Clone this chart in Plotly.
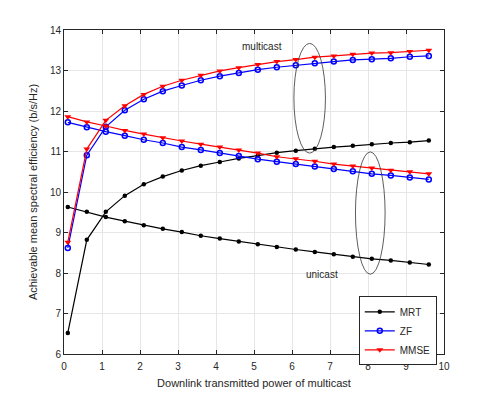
import plotly.graph_objects as go

# moc nadawania (oś x)
power = [0.1, 0.6, 1.1, 1.6, 2.1, 2.6, 3.1, 3.6, 4.1, 4.6,
         5.1, 5.6, 6.1, 6.6, 7.1, 7.6, 8.1, 8.6, 9.1, 9.6]

mrt_multicast = [6.52, 8.82, 9.51, 9.91, 10.19, 10.38, 10.53, 10.65, 10.74, 10.83,
                 10.90, 10.97, 11.02, 11.07, 11.11, 11.14, 11.18, 11.21, 11.23, 11.27]
mrt_unicast = [9.63, 9.51, 9.38, 9.28, 9.18, 9.09, 9.01, 8.92, 8.85, 8.78,
               8.71, 8.64, 8.58, 8.52, 8.46, 8.40, 8.35, 8.31, 8.26, 8.21]
zf_multicast = [8.62, 10.91, 11.61, 12.02, 12.29, 12.49, 12.63, 12.76, 12.86, 12.94,
                13.02, 13.08, 13.13, 13.18, 13.22, 13.26, 13.28, 13.30, 13.34, 13.36]
zf_unicast = [11.72, 11.60, 11.49, 11.39, 11.29, 11.21, 11.11, 11.04, 10.96, 10.89,
              10.81, 10.75, 10.69, 10.63, 10.57, 10.51, 10.45, 10.41, 10.36, 10.31]
mmse_multicast = [8.76, 11.06, 11.77, 12.13, 12.41, 12.61, 12.76, 12.88, 12.99, 13.07,
                  13.15, 13.22, 13.27, 13.33, 13.36, 13.40, 13.43, 13.44, 13.47, 13.50]
mmse_unicast = [11.86, 11.73, 11.63, 11.52, 11.43, 11.34, 11.26, 11.18, 11.11, 11.04,
                10.96, 10.87, 10.82, 10.76, 10.69, 10.64, 10.59, 10.54, 10.50, 10.45]

axis_color = "#262626"
font_family = "Arial, Liberation Sans, sans-serif"

fig = go.Figure()

series = [
    ("MRT", mrt_multicast, mrt_unicast, "black",
     dict(symbol="circle", size=4.5, color="black")),
    ("ZF", zf_multicast, zf_unicast, "blue",
     dict(symbol="circle-open", size=5, color="blue", line=dict(width=1.5, color="blue"))),
    ("MMSE", mmse_multicast, mmse_unicast, "red",
     dict(symbol="triangle-down", size=6, color="red")),
]

for name, multi, uni, color, marker in series:
    fig.add_trace(go.Scatter(x=power, y=multi, mode="lines+markers", name=name,
                             legendgroup=name, line=dict(color=color, width=1.2),
                             marker=marker))
    fig.add_trace(go.Scatter(x=power, y=uni, mode="lines+markers", name=name,
                             legendgroup=name, showlegend=False,
                             line=dict(color=color, width=1.2), marker=marker))

# elipsy zaznaczające grupy krzywych
fig.add_shape(type="circle", xref="x", yref="y", x0=6.05, x1=6.88, y0=10.96, y1=13.67,
              line=dict(color="#333333", width=0.8))
fig.add_shape(type="circle", xref="x", yref="y", x0=7.67, x1=8.45, y0=7.97, y1=10.99,
              line=dict(color="#333333", width=0.8))

fig.add_annotation(x=5.2, y=13.59, text="multicast", showarrow=False,
                   font=dict(size=10, color=axis_color))
fig.add_annotation(x=6.78, y=7.97, text="unicast", showarrow=False,
                   font=dict(size=10, color=axis_color))

axis_style = dict(showline=True, linecolor=axis_color, linewidth=1, mirror="allticks",
                  ticks="inside", ticklen=4, tickcolor=axis_color,
                  showgrid=True, gridcolor="#e6e6e6", gridwidth=1, zeroline=False,
                  tickfont=dict(size=10, color=axis_color, family=font_family))

# strona ma 8px marginesu body, więc figura jest mniejsza i marginesy przesunięte
fig.update_layout(
    width=483, height=391,
    margin=dict(l=56, r=47, t=22, b=45),
    plot_bgcolor="white", paper_bgcolor="white",
    font=dict(family=font_family, color=axis_color, size=10),
    xaxis=dict(range=[0, 10], dtick=1, ticklabelstandoff=3,
               title=dict(text="Downlink transmitted power of multicast",
                          font=dict(size=11), standoff=8),
               **axis_style),
    yaxis=dict(range=[6, 14], dtick=1,
               title=dict(text="Achievable mean spectral efficiency (b/s/Hz)",
                          font=dict(size=11), standoff=10),
               **axis_style),
    legend=dict(x=0.981, y=0.178, xanchor="right", yanchor="top",
                bgcolor="white", bordercolor=axis_color, borderwidth=1,
                font=dict(size=10, color=axis_color), tracegroupgap=0,
                itemwidth=30),
    showlegend=True,
)

fig.write_html("out.html")
